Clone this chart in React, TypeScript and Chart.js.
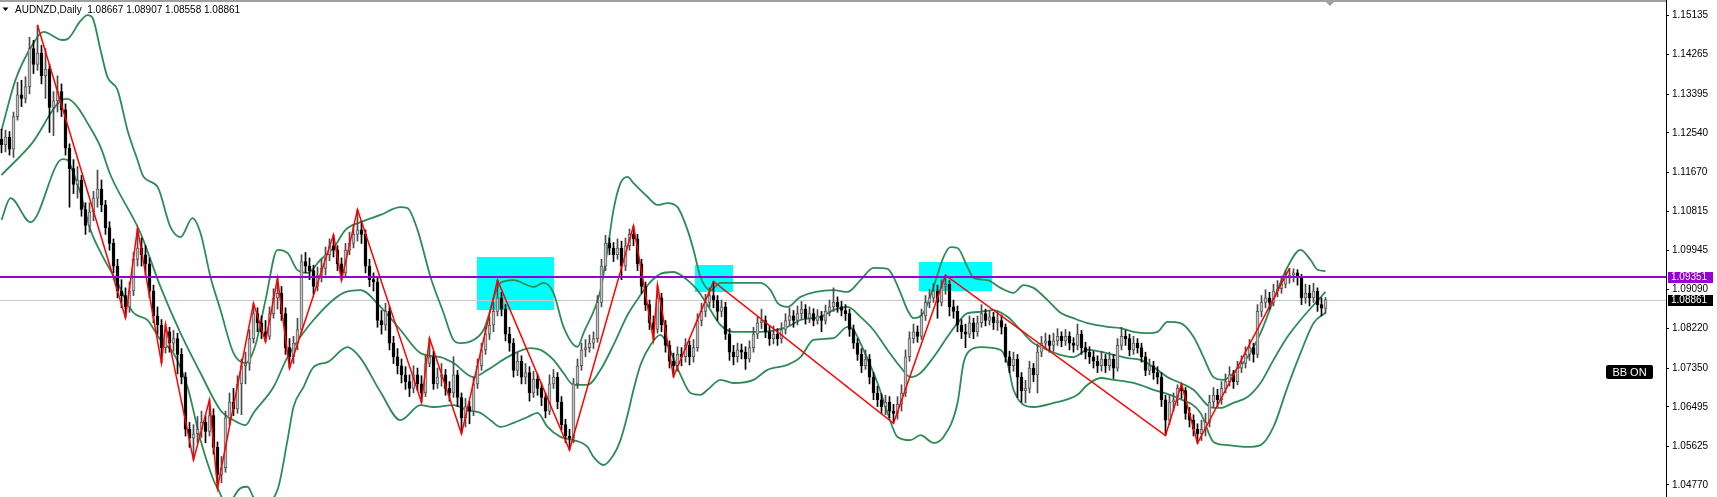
import React, { useEffect, useRef } from "react";
import { Chart, registerables } from "chart.js";

Chart.register(...registerables);

// ---------- price data (daily candles, oldest -> newest) ----------
const opens = [
  1.1240,1.1228,1.1245,1.1218,1.1290,1.1338,1.1330,1.1356,1.1440,1.1405,
  1.1430,1.1380,1.1395,1.1310,1.1325,1.1345,1.1305,1.1220,1.1175,1.1140,
  1.1150,1.1085,1.1050,1.1080,1.1110,1.1130,1.1095,1.1045,1.1010,1.0960,
  1.0905,1.0895,1.0870,1.0905,1.0975,1.1000,1.0985,1.0965,1.0905,1.0850,
  1.0830,1.0780,1.0815,1.0790,1.0800,1.0765,1.0715,1.0600,1.0580,1.0590,
  1.0600,1.0615,1.0595,1.0630,1.0560,1.0500,1.0515,1.0625,1.0660,1.0645,
  1.0700,1.0740,1.0745,1.0800,1.0855,1.0835,1.0815,1.0805,1.0855,1.0890,
  1.0900,1.0855,1.0780,1.0760,1.0790,1.0820,1.0970,1.0960,1.0950,1.0915,
  1.0940,1.0955,1.0985,1.1005,1.0995,1.0965,1.0945,1.0995,1.1010,1.1030,
  1.1040,1.1030,1.0960,1.0930,1.0925,1.0840,1.0830,1.0860,1.0790,1.0760,
  1.0740,1.0720,1.0705,1.0690,1.0720,1.0700,1.0680,1.0745,1.0760,1.0700,
  1.0715,1.0720,1.0690,1.0680,1.0720,1.0670,1.0625,1.0650,1.0640,1.0700,
  1.0740,1.0775,1.0810,1.0830,1.0860,1.0890,1.0865,1.0810,1.0790,1.0730,
  1.0750,1.0715,1.0725,1.0680,1.0710,1.0690,1.0670,1.0640,1.0700,1.0715,
  1.0660,1.0610,1.0585,1.0580,1.0700,1.0740,1.0775,1.0780,1.0790,1.0800,
  1.0880,1.0960,1.1010,1.1000,1.0985,1.1000,1.0960,1.1005,1.1030,1.1020,
  1.0965,1.0915,1.0875,1.0835,1.0820,1.0890,1.0830,1.0785,1.0750,1.0740,
  1.0765,1.0760,1.0785,1.0760,1.0780,1.0840,1.0860,1.0880,1.0895,1.0885,
  1.0860,1.0870,1.0810,1.0770,1.0760,1.0775,1.0770,1.0755,1.0780,1.0810,
  1.0835,1.0840,1.0815,1.0800,1.0810,1.0800,1.0820,1.0840,1.0850,1.0840,
  1.0855,1.0865,1.0845,1.0855,1.0840,1.0850,1.0840,1.0860,1.0870,1.0880,
  1.0870,1.0862,1.0855,1.0820,1.0790,1.0765,1.0740,1.0755,1.0715,1.0680,
  1.0665,1.0650,1.0660,1.0640,1.0635,1.0655,1.0680,1.0760,1.0800,1.0815,
  1.0805,1.0850,1.0880,1.0890,1.0905,1.0880,1.0915,1.0920,1.0870,1.0860,
  1.0830,1.0815,1.0810,1.0835,1.0815,1.0835,1.0855,1.0840,1.0848,1.0835,
  1.0840,1.0825,1.0760,1.0740,1.0755,1.0715,1.0685,1.0690,1.0735,1.0720,
  1.0770,1.0790,1.0795,1.0785,1.0795,1.0805,1.0795,1.0805,1.0790,1.0785,
  1.0810,1.0780,1.0770,1.0760,1.0750,1.0740,1.0755,1.0740,1.0755,1.0735,
  1.0785,1.0805,1.0800,1.0775,1.0790,1.0780,1.0760,1.0730,1.0740,1.0725,
  1.0715,1.0665,1.0620,1.0660,1.0665,1.0690,1.0685,1.0635,1.0620,1.0600,
  1.0590,1.0600,1.0615,1.0660,1.0675,1.0665,1.0690,1.0705,1.0720,1.0705,
  1.0735,1.0745,1.0765,1.0780,1.0765,1.0860,1.0880,1.0890,1.0880,1.0905,
  1.0910,1.0920,1.0935,1.0940,1.0945,1.0935,1.0890,1.0900,1.0890,1.0905,
  1.0875,1.08667,
];
const highs = [
  1.1262,1.1260,1.1257,1.1300,1.1366,1.1370,1.1378,1.1465,1.1458,1.1492,
  1.1447,1.1440,1.1405,1.1345,1.1380,1.1362,1.1318,1.1230,1.1195,1.1180,
  1.1160,1.1100,1.1100,1.1125,1.1172,1.1150,1.1105,1.1058,1.1020,1.0975,
  1.0930,1.0912,1.0925,1.0990,1.1043,1.1022,1.1005,1.0978,1.0918,1.0870,
  1.0842,1.0832,1.0825,1.0818,1.0812,1.0778,1.0725,1.0615,1.0610,1.0628,
  1.0640,1.0630,1.0665,1.0645,1.0572,1.0540,1.0640,1.0680,1.0690,1.0718,
  1.0755,1.0770,1.0820,1.0878,1.0868,1.0850,1.0840,1.0870,1.0910,1.0933,
  1.0915,1.0868,1.0800,1.0805,1.0845,1.0985,1.0990,1.0978,1.0962,1.0958,
  1.0975,1.1002,1.1020,1.1029,1.1005,1.0978,1.1010,1.1035,1.1052,1.1085,
  1.1060,1.1040,1.0975,1.0945,1.0935,1.0862,1.0878,1.0870,1.0805,1.0778,
  1.0755,1.0738,1.0720,1.0740,1.0735,1.0718,1.0762,1.0801,1.0772,1.0735,
  1.0745,1.0732,1.0705,1.0760,1.0730,1.0680,1.0668,1.0662,1.0715,1.0755,
  1.0790,1.0825,1.0848,1.0880,1.0929,1.0902,1.0875,1.0825,1.0800,1.0770,
  1.0762,1.0745,1.0738,1.0728,1.0722,1.0702,1.0680,1.0720,1.0732,1.0725,
  1.0672,1.0622,1.0600,1.0712,1.0755,1.0790,1.0798,1.0808,1.0815,1.0895,
  1.0975,1.1028,1.1022,1.1012,1.1020,1.1015,1.1022,1.1042,1.1049,1.1030,
  1.0975,1.0925,1.0885,1.0850,1.0918,1.0900,1.0840,1.0795,1.0768,1.0782,
  1.0780,1.0800,1.0795,1.0798,1.0855,1.0878,1.0898,1.0912,1.0926,1.0895,
  1.0885,1.0880,1.0822,1.0785,1.0790,1.0788,1.0782,1.0795,1.0825,1.0848,
  1.0865,1.0850,1.0828,1.0828,1.0822,1.0835,1.0855,1.0868,1.0862,1.0872,
  1.0882,1.0875,1.0870,1.0866,1.0864,1.0860,1.0874,1.0885,1.0912,1.0892,
  1.0882,1.0875,1.0865,1.0830,1.0800,1.0778,1.0775,1.0765,1.0725,1.0695,
  1.0678,1.0675,1.0672,1.0655,1.0672,1.0698,1.0775,1.0815,1.0832,1.0828,
  1.0865,1.0895,1.0908,1.0922,1.0918,1.0930,1.0940,1.0928,1.0885,1.0872,
  1.0842,1.0832,1.0850,1.0845,1.0850,1.0875,1.0865,1.0862,1.0858,1.0860,
  1.0852,1.0832,1.0772,1.0770,1.0765,1.0725,1.0708,1.0750,1.0745,1.0788,
  1.0805,1.0812,1.0808,1.0812,1.0822,1.0815,1.0820,1.0815,1.0802,1.0832,
  1.0818,1.0792,1.0782,1.0772,1.0762,1.0772,1.0765,1.0770,1.0765,1.0800,
  1.0825,1.0818,1.0810,1.0805,1.0800,1.0790,1.0770,1.0755,1.0750,1.0738,
  1.0725,1.0675,1.0675,1.0680,1.0698,1.0700,1.0692,1.0648,1.0632,1.0612,
  1.0620,1.0635,1.0675,1.0692,1.0688,1.0705,1.0722,1.0738,1.0730,1.0750,
  1.0762,1.0782,1.0798,1.0790,1.0875,1.0895,1.0908,1.0902,1.0920,1.0928,
  1.0938,1.0950,1.0955,1.0954,1.0952,1.0942,1.0920,1.0918,1.0922,1.0912,
  1.0890,1.08907,
];
const lows = [
  1.1210,1.1212,1.1205,1.1200,1.1282,1.1312,1.1320,1.1340,1.1385,1.1392,
  1.1362,1.1330,1.1255,1.1248,1.1300,1.1290,1.1205,1.1090,1.1120,1.1110,
  1.1070,1.1030,1.1035,1.1060,1.1090,1.1080,1.1030,1.0995,1.0945,1.0890,
  1.0868,1.0846,1.0858,1.0895,1.0960,1.0960,1.0940,1.0890,1.0835,1.0810,
  1.0746,1.0768,1.0770,1.0772,1.0722,1.0700,1.0585,1.0560,1.0532,1.0570,
  1.0582,1.0570,1.0585,1.0545,1.0470,1.0482,1.0505,1.0610,1.0630,1.0635,
  1.0632,1.0700,1.0730,1.0790,1.0815,1.0800,1.0793,1.0798,1.0845,1.0865,
  1.0840,1.0765,1.0735,1.0745,1.0775,1.0812,1.0945,1.0930,1.0898,1.0905,
  1.0925,1.0940,1.0972,1.0980,1.0950,1.0929,1.0938,1.0985,1.1000,1.1015,
  1.1010,1.0945,1.0915,1.0905,1.0825,1.0810,1.0818,1.0775,1.0745,1.0722,
  1.0702,1.0688,1.0672,1.0680,1.0685,1.0659,1.0672,1.0738,1.0688,1.0690,
  1.0695,1.0675,1.0662,1.0670,1.0650,1.0590,1.0605,1.0612,1.0630,1.0690,
  1.0730,1.0765,1.0798,1.0815,1.0850,1.0850,1.0795,1.0772,1.0715,1.0718,
  1.0700,1.0700,1.0662,1.0670,1.0675,1.0652,1.0625,1.0632,1.0690,1.0645,
  1.0598,1.0570,1.0554,1.0570,1.0690,1.0730,1.0760,1.0770,1.0778,1.0792,
  1.0870,1.0950,1.0985,1.0970,1.0975,1.0930,1.0950,1.0995,1.1005,1.0950,
  1.0900,1.0862,1.0820,1.0797,1.0812,1.0815,1.0770,1.0735,1.0716,1.0728,
  1.0740,1.0748,1.0742,1.0748,1.0772,1.0828,1.0848,1.0870,1.0868,1.0840,
  1.0848,1.0798,1.0752,1.0742,1.0748,1.0755,1.0732,1.0748,1.0770,1.0800,
  1.0822,1.0802,1.0785,1.0788,1.0785,1.0790,1.0810,1.0830,1.0825,1.0830,
  1.0842,1.0832,1.0835,1.0828,1.0832,1.0815,1.0832,1.0850,1.0860,1.0858,
  1.0850,1.0840,1.0805,1.0778,1.0752,1.0725,1.0732,1.0700,1.0665,1.0650,
  1.0635,1.0632,1.0625,1.0613,1.0622,1.0640,1.0672,1.0750,1.0790,1.0792,
  1.0798,1.0840,1.0868,1.0880,1.0845,1.0872,1.0898,1.0850,1.0845,1.0815,
  1.0800,1.0780,1.0802,1.0800,1.0805,1.0825,1.0828,1.0830,1.0820,1.0818,
  1.0810,1.0748,1.0725,1.0728,1.0670,1.0660,1.0658,1.0680,1.0705,1.0680,
  1.0760,1.0778,1.0770,1.0772,1.0785,1.0782,1.0785,1.0775,1.0770,1.0775,
  1.0765,1.0755,1.0745,1.0735,1.0725,1.0728,1.0725,1.0730,1.0712,1.0728,
  1.0775,1.0785,1.0762,1.0765,1.0768,1.0748,1.0718,1.0720,1.0710,1.0700,
  1.0650,1.0586,1.0610,1.0640,1.0652,1.0668,1.0622,1.0605,1.0585,1.0569,
  1.0575,1.0585,1.0605,1.0648,1.0650,1.0655,1.0680,1.0695,1.0690,1.0698,
  1.0725,1.0735,1.0752,1.0748,1.0758,1.0848,1.0868,1.0865,1.0872,1.0892,
  1.0900,1.0912,1.0922,1.0925,1.0918,1.0875,1.0878,1.0872,1.0880,1.0860,
  1.0850,1.08558,
];
const closes = [
  1.1228,1.1245,1.1218,1.1290,1.1338,1.1330,1.1356,1.1440,1.1405,1.1430,
  1.1380,1.1395,1.1310,1.1325,1.1345,1.1305,1.1220,1.1175,1.1140,1.1150,
  1.1085,1.1050,1.1080,1.1110,1.1130,1.1095,1.1045,1.1010,1.0960,1.0905,
  1.0895,1.0870,1.0905,1.0975,1.1000,1.0985,1.0965,1.0905,1.0850,1.0830,
  1.0780,1.0815,1.0790,1.0800,1.0765,1.0715,1.0600,1.0580,1.0590,1.0600,
  1.0615,1.0595,1.0630,1.0560,1.0500,1.0515,1.0625,1.0660,1.0645,1.0700,
  1.0740,1.0745,1.0800,1.0855,1.0835,1.0815,1.0805,1.0855,1.0890,1.0900,
  1.0855,1.0780,1.0760,1.0790,1.0820,1.0970,1.0960,1.0950,1.0915,1.0940,
  1.0955,1.0985,1.1005,1.0995,1.0965,1.0945,1.0995,1.1010,1.1030,1.1040,
  1.1030,1.0960,1.0930,1.0925,1.0840,1.0830,1.0860,1.0790,1.0760,1.0740,
  1.0720,1.0705,1.0690,1.0720,1.0700,1.0680,1.0745,1.0760,1.0700,1.0715,
  1.0720,1.0690,1.0680,1.0720,1.0670,1.0625,1.0650,1.0640,1.0700,1.0740,
  1.0775,1.0810,1.0830,1.0860,1.0890,1.0865,1.0810,1.0790,1.0730,1.0750,
  1.0715,1.0725,1.0680,1.0710,1.0690,1.0670,1.0640,1.0700,1.0715,1.0660,
  1.0610,1.0585,1.0580,1.0700,1.0740,1.0775,1.0780,1.0790,1.0800,1.0880,
  1.0960,1.1010,1.1000,1.0985,1.1000,1.0960,1.1005,1.1030,1.1020,1.0965,
  1.0915,1.0875,1.0835,1.0820,1.0890,1.0830,1.0785,1.0750,1.0740,1.0765,
  1.0760,1.0785,1.0760,1.0780,1.0840,1.0860,1.0880,1.0895,1.0885,1.0860,
  1.0870,1.0810,1.0770,1.0760,1.0775,1.0770,1.0755,1.0780,1.0810,1.0835,
  1.0840,1.0815,1.0800,1.0810,1.0800,1.0820,1.0840,1.0850,1.0840,1.0855,
  1.0865,1.0845,1.0855,1.0840,1.0850,1.0840,1.0860,1.0870,1.0880,1.0870,
  1.0862,1.0855,1.0820,1.0790,1.0765,1.0740,1.0755,1.0715,1.0680,1.0665,
  1.0650,1.0660,1.0640,1.0635,1.0655,1.0680,1.0760,1.0800,1.0815,1.0805,
  1.0850,1.0880,1.0890,1.0905,1.0880,1.0915,1.0920,1.0870,1.0860,1.0830,
  1.0815,1.0810,1.0835,1.0815,1.0835,1.0855,1.0840,1.0848,1.0835,1.0840,
  1.0825,1.0760,1.0740,1.0755,1.0715,1.0685,1.0690,1.0735,1.0720,1.0770,
  1.0790,1.0795,1.0785,1.0795,1.0805,1.0795,1.0805,1.0790,1.0785,1.0810,
  1.0780,1.0770,1.0760,1.0750,1.0740,1.0755,1.0740,1.0755,1.0735,1.0785,
  1.0805,1.0800,1.0775,1.0790,1.0780,1.0760,1.0730,1.0740,1.0725,1.0715,
  1.0665,1.0620,1.0660,1.0665,1.0690,1.0685,1.0635,1.0620,1.0600,1.0590,
  1.0600,1.0615,1.0660,1.0675,1.0665,1.0690,1.0705,1.0720,1.0705,1.0735,
  1.0745,1.0765,1.0780,1.0765,1.0860,1.0880,1.0890,1.0880,1.0905,1.0910,
  1.0920,1.0935,1.0940,1.0945,1.0935,1.0890,1.0900,1.0890,1.0905,1.0875,
  1.0867,1.08861,
];

// ZigZag pivots (bar index, price)
const zigIdx = [9,31,34,40,41,48,52,54,63,66,69,72,83,85,89,105,107,115,124,142,158,163,164,168,178,223,236,291,295,299,322];
const zigVal = [1.1492,1.0846,1.1043,1.0746,1.0832,1.0532,1.0665,1.0470,1.0878,1.0793,1.0933,1.0735,1.1029,1.0929,1.1085,1.0659,1.0801,1.0590,1.0929,1.0554,1.1049,1.0797,1.0918,1.0716,1.0926,1.0613,1.0940,1.0586,1.0700,1.0569,1.0955];

// Bollinger bands (bar index, price)
const upperIdx = [0,3.5,7.7,10.5,15.25,16.5,19.75,21.5,22.75,24.75,26.5,29,31.5,34,35.5,39,42.25,44.75,47.75,49.75,52.25,54.75,58,61,63.5,66,69,71.5,74,76.5,79.75,83,86,89.75,94.75,99.75,101.5,104,107.25,110.5,113,114.75,118,120.5,124.75,128,133,135.5,138,140.5,144,145.5,149.75,151.5,153,154.75,156.5,158,161.5,164,166.5,169,171.5,173,174.75,177.25,179.75,182.25,189.75,192.25,194,196.5,199.75,208,211.5,214.75,218,221.5,222.75,224.75,226.5,228,230.5,233,235.5,237.25,239,241.5,243,246.5,249.75,253,255.5,258,261.5,264.75,268,271.5,276.5,279.75,283,286.5,289,291.5,294.75,298,300.5,303,305.5,308,311.5,314.75,318,321.5,324.75,327.25,329,331];
const upperVal = [1.1260,1.1371,1.1448,1.1477,1.1459,1.1461,1.1501,1.1514,1.1508,1.1437,1.1377,1.1349,1.1260,1.1194,1.1157,1.1135,1.1046,1.1024,1.1066,1.1033,1.0936,1.0863,1.0768,1.0746,1.0786,1.0885,1.0996,1.0989,1.0951,1.0945,1.0974,1.1000,1.1040,1.1057,1.1073,1.1090,1.1088,1.1040,1.0936,1.0857,1.0797,1.0790,1.0797,1.0819,1.0923,1.0929,1.0914,1.0923,1.0901,1.0826,1.0782,1.0812,1.0907,1.0996,1.1084,1.1143,1.1157,1.1143,1.1113,1.1095,1.1099,1.1090,1.1040,1.0996,1.0936,1.0907,1.0923,1.0923,1.0923,1.0907,1.0879,1.0870,1.0892,1.0907,1.0903,1.0929,1.0956,1.0954,1.0940,1.0901,1.0863,1.0845,1.0857,1.0914,1.0980,1.1002,1.1000,1.0958,1.0934,1.0929,1.0912,1.0901,1.0918,1.0912,1.0885,1.0857,1.0845,1.0834,1.0826,1.0823,1.0815,1.0812,1.0815,1.0837,1.0834,1.0804,1.0759,1.0715,1.0709,1.0724,1.0759,1.0812,1.0885,1.0958,1.0996,1.0974,1.0952,1.0949];
const middleIdx = [0,7.7,15.2,16.5,19,21.5,24.75,27.25,34.75,39.75,44.75,49.75,54.75,58,61,63,68,71.5,78,85.5,89.75,94.75,99.75,104.75,109.75,113,118,121.5,126.5,132.25,134.75,138,140.5,143,146.5,149.75,153,156.5,159.75,162.25,164.75,168,171.5,174,176.5,179.75,183,189.75,196.5,199.75,204.75,208,211.5,214.75,218,221.5,224.75,227.25,229.75,233,236.5,239,241.5,244.75,248,251.5,254.75,258,261.5,264.75,268,271.5,274.75,278,281.5,284.75,288,291.5,294.75,298,302.25,304.75,308,311.5,314.75,318,321.5,324.75,328,331];
const middleVal = [1.1161,1.1232,1.1327,1.1329,1.1311,1.1276,1.1223,1.1161,1.1033,1.0914,1.0812,1.0724,1.0642,1.0620,1.0609,1.0636,1.0693,1.0759,1.0841,1.0901,1.0907,1.0870,1.0819,1.0768,1.0759,1.0746,1.0715,1.0731,1.0759,1.0779,1.0775,1.0753,1.0724,1.0698,1.0698,1.0731,1.0786,1.0852,1.0896,1.0925,1.0943,1.0947,1.0929,1.0907,1.0874,1.0830,1.0815,1.0815,1.0826,1.0841,1.0848,1.0863,1.0870,1.0848,1.0819,1.0775,1.0737,1.0715,1.0724,1.0759,1.0804,1.0834,1.0856,1.0859,1.0863,1.0848,1.0819,1.0790,1.0775,1.0764,1.0759,1.0775,1.0771,1.0764,1.0757,1.0753,1.0737,1.0715,1.0702,1.0687,1.0649,1.0647,1.0658,1.0671,1.0702,1.0753,1.0804,1.0841,1.0874,1.0903];
const lowerIdx = [0,2.25,7.25,15.25,16.5,18,19.75,22.25,24.75,29,33,36.5,39.75,43,46.5,49.75,53,54.25,56.25,59.75,61.5,63,64.75,69,71.5,73,75.5,78,81.5,86.5,89.75,94.75,99.75,104.75,108,113,116.5,119.75,122.25,124.75,128,131.5,134,136.5,139.75,143,146.5,148,150.5,153,154.75,156.5,158,159.75,162.25,164.75,166.5,169.75,172.25,174.75,176.5,179.75,183,188,191.5,196.5,199.75,203,208,211.5,213,215.5,219,221.5,224,227.25,229.75,233,235.5,239,240.5,242.25,244.75,249.75,251.5,253,258,263,269,271.5,274.75,278,283,288,294,299.75,303,306.5,311.5,314.75,318,321.5,324.75,328,331];
const lowerVal = [1.1062,1.1110,1.1057,1.1196,1.1194,1.1165,1.1121,1.1040,1.0991,1.0923,1.0857,1.0841,1.0797,1.0768,1.0693,1.0576,1.0488,1.0466,1.0433,1.0470,1.0473,1.0450,1.0433,1.0466,1.0576,1.0649,1.0693,1.0737,1.0748,1.0781,1.0757,1.0682,1.0620,1.0653,1.0649,1.0653,1.0642,1.0636,1.0620,1.0605,1.0614,1.0627,1.0636,1.0605,1.0583,1.0576,1.0561,1.0539,1.0521,1.0543,1.0576,1.0631,1.0687,1.0742,1.0786,1.0808,1.0786,1.0720,1.0680,1.0676,1.0687,1.0709,1.0702,1.0709,1.0731,1.0742,1.0759,1.0797,1.0801,1.0826,1.0819,1.0775,1.0702,1.0636,1.0583,1.0576,1.0587,1.0570,1.0583,1.0658,1.0746,1.0775,1.0781,1.0775,1.0746,1.0687,1.0649,1.0658,1.0676,1.0698,1.0713,1.0709,1.0702,1.0687,1.0669,1.0636,1.0572,1.0565,1.0561,1.0565,1.0605,1.0693,1.0768,1.0834,1.0857];

// Price-axis tick labels
const yTicks = [1.15135,1.14265,1.13395,1.12540,1.11670,1.10815,1.09945,1.09090,1.08220,1.07350,1.06495,1.05625,1.04770];

// Objects on the chart
const levelPrice = 1.09351;
const bidPrice = 1.08861;
const rectStart = [118.9, 173.25, 229.3];
const rectEnd = [138.1, 182.8, 247.6];
const rectTop = [1.0979, 1.0962, 1.0968];
const rectBottom = [1.0862, 1.0903, 1.0903];
const titleText = "AUDNZD,Daily  1.08667 1.08907 1.08558 1.08861";
const badgeText = "BB ON";

const FONT = '"Liberation Sans", Arial, sans-serif';
const Y_MIN = 1.04504;
const Y_MAX = 1.154727;
const X_MIN = -0.375;
const X_MAX = 416.125;

export default function App() {
  const canvasRef = useRef<HTMLCanvasElement | null>(null);

  useEffect(() => {
    document.body.style.margin = "0";
    const canvas = canvasRef.current;
    if (!canvas) return;

    const bull = closes.map((c, i) => c >= opens[i]);
    const wickData = closes.map((_, i) => ({ x: i, y: [lows[i], highs[i]] }));
    const bodyData = closes.map((c, i) => ({ x: i, y: [opens[i], c] }));
    const pts = (xs: number[], ys: number[]) => xs.map((x, i) => ({ x, y: ys[i] }));

    const overlay = {
      id: "mt4overlay",
      beforeDatasetsDraw(chart: any) {
        const { ctx, chartArea: a, scales } = chart;
        const x = scales.x, y = scales.y;
        ctx.save();
        ctx.beginPath();
        ctx.rect(a.left, a.top, a.right - a.left, a.bottom - a.top);
        ctx.clip();
        ctx.fillStyle = "#00FFFF";
        rectStart.forEach((s, i) => {
          const x1 = x.getPixelForValue(s);
          const x2 = x.getPixelForValue(rectEnd[i]);
          const y1 = y.getPixelForValue(rectTop[i]);
          const y2 = y.getPixelForValue(rectBottom[i]);
          ctx.fillRect(Math.round(x1), Math.round(y1), Math.round(x2 - x1), Math.round(y2 - y1));
        });
        const by = Math.round(y.getPixelForValue(bidPrice)) + 0.5;
        ctx.strokeStyle = "#C8C8C8";
        ctx.lineWidth = 1;
        ctx.beginPath();
        ctx.moveTo(a.left, by);
        ctx.lineTo(a.right, by);
        ctx.stroke();
        ctx.restore();
      },
      afterDatasetsDraw(chart: any) {
        const { ctx, chartArea: a, scales } = chart;
        const py = Math.round(scales.y.getPixelForValue(levelPrice));
        ctx.save();
        ctx.fillStyle = "#9400D3";
        ctx.fillRect(a.left, py - 1, a.right - a.left, 2);
        ctx.restore();
      },
      afterDraw(chart: any) {
        const { ctx, chartArea: a, scales } = chart;
        const y = scales.y;
        ctx.save();
        // top frame line
        ctx.fillStyle = "#A0A0A0";
        ctx.fillRect(0, 0, a.right, 2);
        // chart shift marker
        ctx.beginPath();
        ctx.moveTo(1325, 1);
        ctx.lineTo(1335, 1);
        ctx.lineTo(1330, 6);
        ctx.closePath();
        ctx.fill();
        // title
        ctx.fillStyle = "#000";
        ctx.beginPath();
        ctx.moveTo(2.5, 7.5);
        ctx.lineTo(8.5, 7.5);
        ctx.lineTo(5.5, 11);
        ctx.closePath();
        ctx.fill();
        ctx.font = `10px ${FONT}`;
        ctx.textBaseline = "alphabetic";
        ctx.textAlign = "left";
        ctx.fillText(titleText, 15, 12.5);
        // price labels on axis
        const tag = (price: number, bg: string) => {
          const py = Math.round(y.getPixelForValue(price));
          ctx.fillStyle = bg;
          ctx.fillRect(a.right + 2, py - 5, 45, 11);
          ctx.fillStyle = "#fff";
          ctx.textBaseline = "middle";
          ctx.fillText(price.toFixed(5), a.right + 5, py + 0.5);
        };
        tag(levelPrice, "#9400D3");
        tag(bidPrice, "#000000");
        // BB ON badge
        ctx.fillStyle = "#000";
        ctx.beginPath();
        (ctx as any).roundRect ? (ctx as any).roundRect(1606, 365, 47, 14, 2) : ctx.rect(1606, 365, 47, 14);
        ctx.fill();
        ctx.fillStyle = "#fff";
        ctx.font = `11px ${FONT}`;
        ctx.textAlign = "center";
        ctx.textBaseline = "middle";
        ctx.fillText(badgeText, 1629.5, 372.5);
        ctx.restore();
      },
    };

    const chart = new Chart(canvas, {
      type: "bar",
      data: {
        datasets: [
          {
            type: "line",
            label: "upper",
            data: pts(upperIdx, upperVal),
            borderColor: "#2E8B57",
            borderWidth: 1.8,
            pointRadius: 0,
            cubicInterpolationMode: "monotone",
            order: 6,
          },
          {
            type: "line",
            label: "middle",
            data: pts(middleIdx, middleVal),
            borderColor: "#2E8B57",
            borderWidth: 1.8,
            pointRadius: 0,
            cubicInterpolationMode: "monotone",
            order: 6,
          },
          {
            type: "line",
            label: "lower",
            data: pts(lowerIdx, lowerVal),
            borderColor: "#2E8B57",
            borderWidth: 1.8,
            pointRadius: 0,
            cubicInterpolationMode: "monotone",
            order: 6,
          },
          {
            type: "bar",
            label: "wick",
            data: wickData as any,
            backgroundColor: bull.map((b) => (b ? "#4A4A4A" : "#000000")),
            borderWidth: 0,
            barThickness: 1,
            grouped: false,
            order: 4,
          },
          {
            type: "bar",
            label: "body",
            data: bodyData as any,
            backgroundColor: bull.map((b) => (b ? "#C4C4C4" : "#000000")),
            borderColor: bull.map((b) => (b ? "#5E5E5E" : "#000000")),
            borderWidth: 1,
            borderSkipped: false,
            barThickness: 3,
            grouped: false,
            order: 3,
          },
          {
            type: "line",
            label: "zigzag",
            data: pts(zigIdx, zigVal),
            borderColor: "#FF0000",
            borderWidth: 1.5,
            pointRadius: 0,
            tension: 0,
            order: 1,
          },
        ] as any,
      },
      options: {
        responsive: false,
        animation: false,
        devicePixelRatio: 1,
        events: [],
        layout: { padding: 0 },
        plugins: { legend: { display: false }, tooltip: { enabled: false } },
        scales: {
          x: {
            type: "linear",
            min: X_MIN,
            max: X_MAX,
            display: false,
            offset: false,
            grid: { offset: false },
          },
          y: {
            type: "linear",
            position: "right",
            min: Y_MIN,
            max: Y_MAX,
            afterBuildTicks: (axis: any) => {
              axis.ticks = yTicks.map((v) => ({ value: v }));
            },
            afterFit: (axis: any) => {
              axis.width = 51;
              axis.paddingTop = 0;
              axis.paddingBottom = 0;
            },
            grid: { drawOnChartArea: false, drawTicks: true, tickLength: 3, color: "#000" },
            border: { display: true, color: "#000", width: 1 },
            ticks: {
              autoSkip: false,
              padding: 3,
              color: "#000",
              font: { family: FONT, size: 10 },
              callback: (v: any) => Number(v).toFixed(5),
            },
          },
        },
      } as any,
      plugins: [overlay],
    });

    return () => chart.destroy();
  }, []);

  return (
    <div style={{ width: 1717, height: 497, background: "#fff", overflow: "hidden" }}>
      <canvas ref={canvasRef} width={1717} height={497} style={{ display: "block" }} />
    </div>
  );
}
